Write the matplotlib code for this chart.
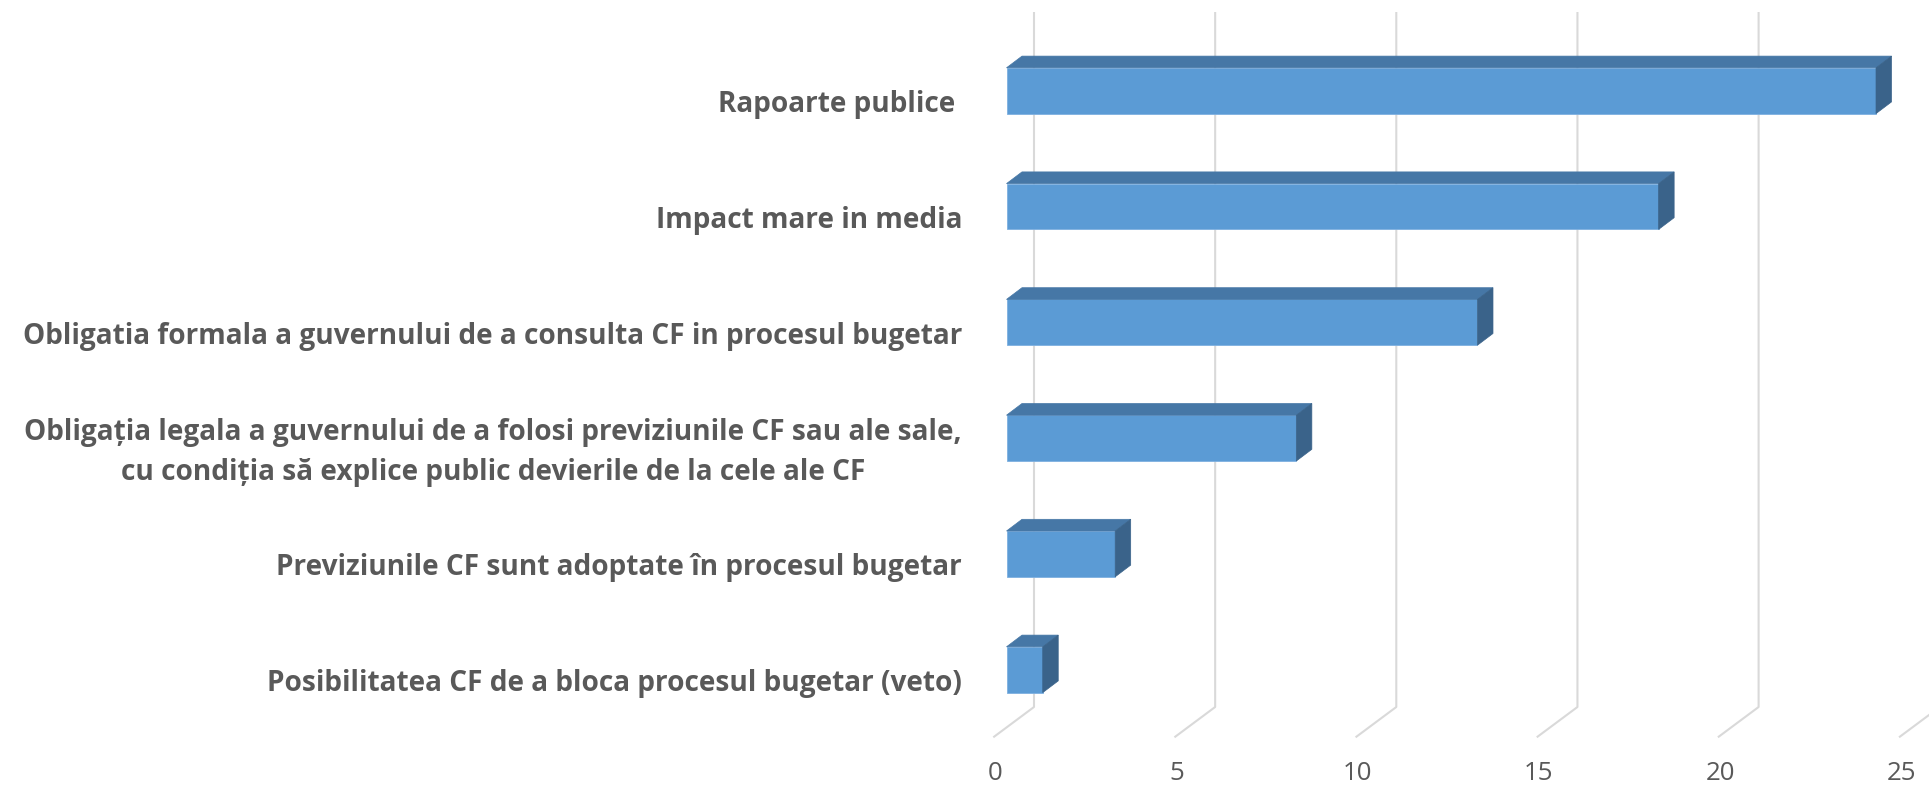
import matplotlib
matplotlib.use("Agg")
import matplotlib.pyplot as plt
from matplotlib.patches import Polygon

# ---- data ----
categories = [
    "Rapoarte publice ",
    "Impact mare in media",
    "Obligatia formala a guvernului de a consulta CF in procesul bugetar",
    "Obligația legala a guvernului de a folosi previziunile CF sau ale sale,\ncu condiția să explice public devierile de la cele ale CF",
    "Previziunile CF sunt adoptate în procesul bugetar",
    "Posibilitatea CF de a bloca procesul bugetar (veto)",
]
values = [24, 18, 13, 8, 3, 1]
ticks = [0, 5, 10, 15, 20, 25]

# ---- styling / layout (pixels in a 1929x786 canvas) ----
W, H = 1929, 786
X0, PXU = 1006.5, 36.23      # px of value 0 on bar front plane, px per unit
Y0, PYC = 90.7, 115.8        # px of first category centre, px per category
BAR_H_PX = 45.8
DEPTH_DX, DEPTH_DY = 15.5, -11.7   # bar depth offset in px (right, up)
WALL_DX, WALL_TOP, WALL_BOT = 27.5, 12, 707
FLOOR_DX, FLOOR_Y = -13.2, 737.3
FRONT = "#5B9BD5"
TOP = "#4677A6"
SIDE = "#3A638A"
GRID = "#D9D9D9"
TEXT = "#595959"
FONT = "Open Sans"
LABEL_SIZE = 20.2

fig = plt.figure(figsize=(W / 100, H / 100), dpi=100)
ax = fig.add_axes([0, 0, 1, 1])
ax.set_xlim(-X0 / PXU, (W - X0) / PXU)
ax.set_ylim((H - Y0) / PYC, -Y0 / PYC)
ax.axis("off")

px = lambda d: d / PXU          # px -> value units
py = lambda d: d / PYC          # px -> category units
ypx = lambda p: (p - Y0) / PYC  # absolute pixel y -> category coord

# gridlines (back wall + floor)
for t in ticks:
    ax.plot([t + px(WALL_DX), t + px(WALL_DX), t + px(FLOOR_DX)],
            [ypx(WALL_TOP), ypx(WALL_BOT), ypx(FLOOR_Y)],
            color=GRID, lw=1.5, zorder=1, solid_capstyle="butt")
    ax.text(t + px(FLOOR_DX + 2.2), ypx(779.5), str(t), ha="center", va="baseline",
            fontsize=18.6, color=TEXT, family=FONT)

# bars
idx = list(range(len(values)))
bh = py(BAR_H_PX)
ddx, ddy = px(DEPTH_DX), py(DEPTH_DY)
ax.barh(idx, values, height=bh, left=0, color=FRONT, edgecolor="#7EB0E0",
        linewidth=0.6, zorder=3)
for i, v in zip(idx, values):
    top = i - bh / 2
    bot = i + bh / 2
    ax.add_patch(Polygon([(0, top), (v, top), (v + ddx, top + ddy), (ddx, top + ddy)],
                         closed=True, facecolor=TOP, edgecolor=TOP, lw=0.5, zorder=3))
    ax.add_patch(Polygon([(v, top), (v + ddx, top + ddy), (v + ddx, bot + ddy), (v, bot)],
                         closed=True, facecolor=SIDE, edgecolor=SIDE, lw=0.5, zorder=3))

# category labels
LABEL_X = px(962 - X0)
for i, c in zip(idx, categories):
    if "\n" in c:
        ax.text(LABEL_X, i + py(42), c, ha="right", va="baseline",
                multialignment="center", fontsize=LABEL_SIZE, fontweight="bold",
                color=TEXT, family=FONT, linespacing=1.5)
    else:
        ax.text(LABEL_X, i + py(21.5), c, ha="right", va="baseline",
                fontsize=LABEL_SIZE, fontweight="bold", color=TEXT, family=FONT)

fig.savefig("out.png", dpi=100)
